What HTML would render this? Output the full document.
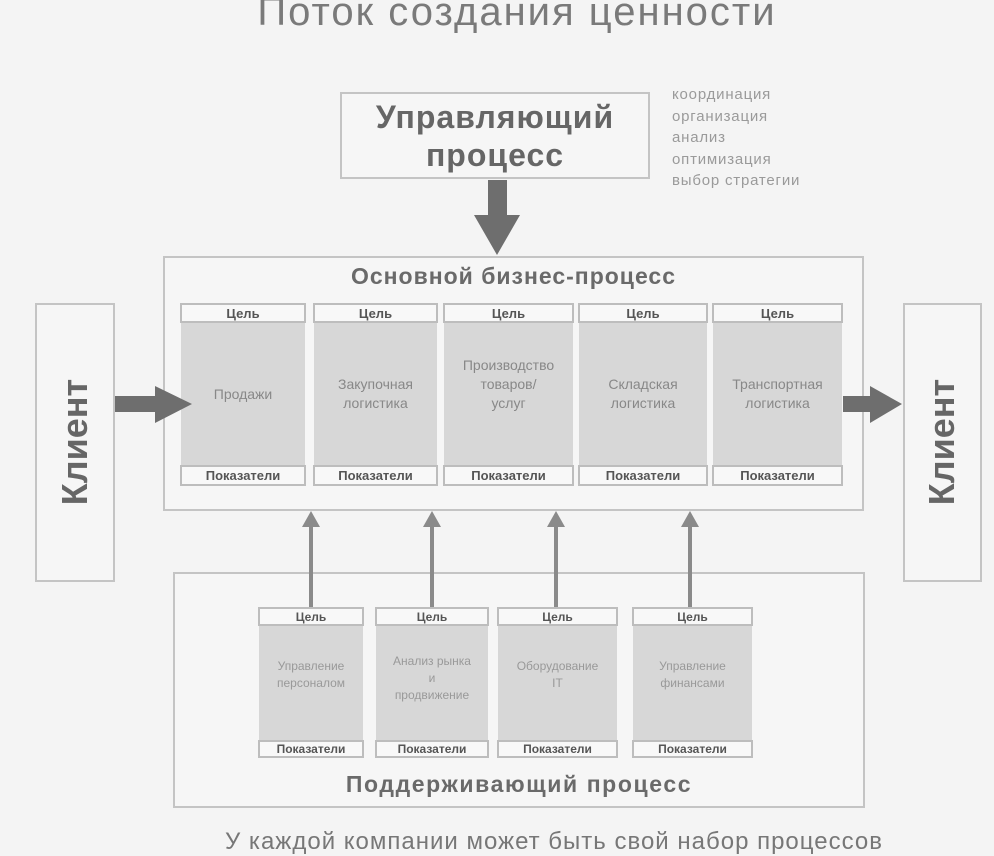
<!DOCTYPE html>
<html><head><meta charset="utf-8"><style>
body{margin:0;width:994px;height:854px;background:#f4f4f4;position:relative;overflow:hidden;font-family:"Liberation Sans","DejaVu Sans",sans-serif;}
.a{position:absolute;box-sizing:border-box;}
.box{border:2px solid #c4c4c4;background:#f6f6f6;}
.hd{border:2px solid #bdbdbd;background:#f8f8f8;font-size:13px;color:#555;text-align:center;font-weight:bold;display:flex;align-items:center;justify-content:center;}
.body{background:#d7d7d7;color:#888;text-align:center;display:flex;align-items:center;justify-content:center;font-size:14px;line-height:19px;}
.sb{font-size:12px;line-height:17px;color:#999;}
.hs{font-size:12px;}
</style></head><body>
<div class="a" style="left:0;top:-10px;width:1034px;text-align:center;font-size:40px;letter-spacing:2px;color:#7a7a7a;white-space:nowrap;">Поток создания ценности</div>

<div class="a box" style="left:340px;top:92px;width:310px;height:87px;text-align:center;font-size:32px;letter-spacing:1px;font-weight:bold;color:#666;line-height:38px;padding-top:4px;white-space:nowrap;">Управляющий<br>процесс</div>
<div class="a" style="left:672px;top:84px;font-size:15px;letter-spacing:0.8px;line-height:21.5px;color:#9a9a9a;">координация<br>организация<br>анализ<br>оптимизация<br>выбор стратегии</div>

<div class="a box" style="left:163px;top:256px;width:701px;height:255px;"></div>
<div class="a" style="left:163px;top:263px;width:701px;text-align:center;font-size:23px;letter-spacing:1px;font-weight:bold;color:#6a6a6a;">Основной бизнес-процесс</div>

<div class="a box" style="left:35px;top:303px;width:80px;height:279px;"></div>
<div class="a" style="left:-65px;top:421px;width:280px;text-align:center;font-size:36px;font-weight:bold;color:#666;transform:rotate(-90deg);">Клиент</div>
<div class="a box" style="left:903px;top:303px;width:79px;height:279px;"></div>
<div class="a" style="left:802px;top:421px;width:280px;text-align:center;font-size:36px;font-weight:bold;color:#666;transform:rotate(-90deg);">Клиент</div>

<div class="a body" style="left:181px;top:322px;width:124px;height:144px;">Продажи</div>
<div class="a body" style="left:314px;top:322px;width:123px;height:144px;">Закупочная<br>логистика</div>
<div class="a body" style="left:444px;top:322px;width:129px;height:144px;padding-bottom:20px;">Производство<br>товаров/<br>услуг</div>
<div class="a body" style="left:579px;top:322px;width:128px;height:144px;">Складская<br>логистика</div>
<div class="a body" style="left:713px;top:322px;width:129px;height:144px;">Транспортная<br>логистика</div>

<div class="a hd" style="left:180px;top:303px;width:126px;height:20px;">Цель</div>
<div class="a hd" style="left:313px;top:303px;width:125px;height:20px;">Цель</div>
<div class="a hd" style="left:443px;top:303px;width:131px;height:20px;">Цель</div>
<div class="a hd" style="left:578px;top:303px;width:130px;height:20px;">Цель</div>
<div class="a hd" style="left:712px;top:303px;width:131px;height:20px;">Цель</div>
<div class="a hd" style="left:180px;top:465px;width:126px;height:21px;">Показатели</div>
<div class="a hd" style="left:313px;top:465px;width:125px;height:21px;">Показатели</div>
<div class="a hd" style="left:443px;top:465px;width:131px;height:21px;">Показатели</div>
<div class="a hd" style="left:578px;top:465px;width:130px;height:21px;">Показатели</div>
<div class="a hd" style="left:712px;top:465px;width:131px;height:21px;">Показатели</div>

<div class="a box" style="left:173px;top:572px;width:692px;height:236px;"></div>
<div class="a" style="left:173px;top:771px;width:692px;text-align:center;font-size:23px;letter-spacing:1.6px;font-weight:bold;color:#6a6a6a;">Поддерживающий процесс</div>

<svg class="a" style="left:0;top:0" width="994" height="854">
<polygon points="488,180 507,180 507,215 520,215 497,255 474,215 488,215" fill="#6e6e6e"/>
<polygon points="115,396 155,396 155,386 192,404 155,423 155,412 115,412" fill="#6e6e6e"/>
<polygon points="843,396 870,396 870,386 902,404 870,423 870,412 843,412" fill="#6e6e6e"/>
<g fill="#8a8a8a">
<rect x="309" y="525" width="4" height="83"/><polygon points="302,527 311,511 320,527"/>
<rect x="430" y="525" width="4" height="83"/><polygon points="423,527 432,511 441,527"/>
<rect x="554" y="525" width="4" height="83"/><polygon points="547,527 556,511 565,527"/>
<rect x="688" y="525" width="4" height="83"/><polygon points="681,527 690,511 699,527"/>
</g></svg>

<div class="a body sb" style="left:259px;top:624px;width:104px;height:117px;padding-bottom:16px;">Управление<br>персоналом</div>
<div class="a body sb" style="left:376px;top:624px;width:112px;height:117px;padding-bottom:8px;">Анализ рынка<br>и<br>продвижение</div>
<div class="a body sb" style="left:498px;top:624px;width:119px;height:117px;padding-bottom:16px;">Оборудование<br>IT</div>
<div class="a body sb" style="left:633px;top:624px;width:119px;height:117px;padding-bottom:16px;">Управление<br>финансами</div>

<div class="a hd hs" style="left:258px;top:607px;width:106px;height:19px;">Цель</div>
<div class="a hd hs" style="left:375px;top:607px;width:114px;height:19px;">Цель</div>
<div class="a hd hs" style="left:497px;top:607px;width:121px;height:19px;">Цель</div>
<div class="a hd hs" style="left:632px;top:607px;width:121px;height:19px;">Цель</div>
<div class="a hd hs" style="left:258px;top:740px;width:106px;height:18px;">Показатели</div>
<div class="a hd hs" style="left:375px;top:740px;width:114px;height:18px;">Показатели</div>
<div class="a hd hs" style="left:497px;top:740px;width:121px;height:18px;">Показатели</div>
<div class="a hd hs" style="left:632px;top:740px;width:121px;height:18px;">Показатели</div>

<div class="a" style="left:225px;top:828px;font-size:24px;letter-spacing:1px;color:#777;white-space:nowrap;">У каждой компании может быть свой набор процессов</div>
</body></html>
